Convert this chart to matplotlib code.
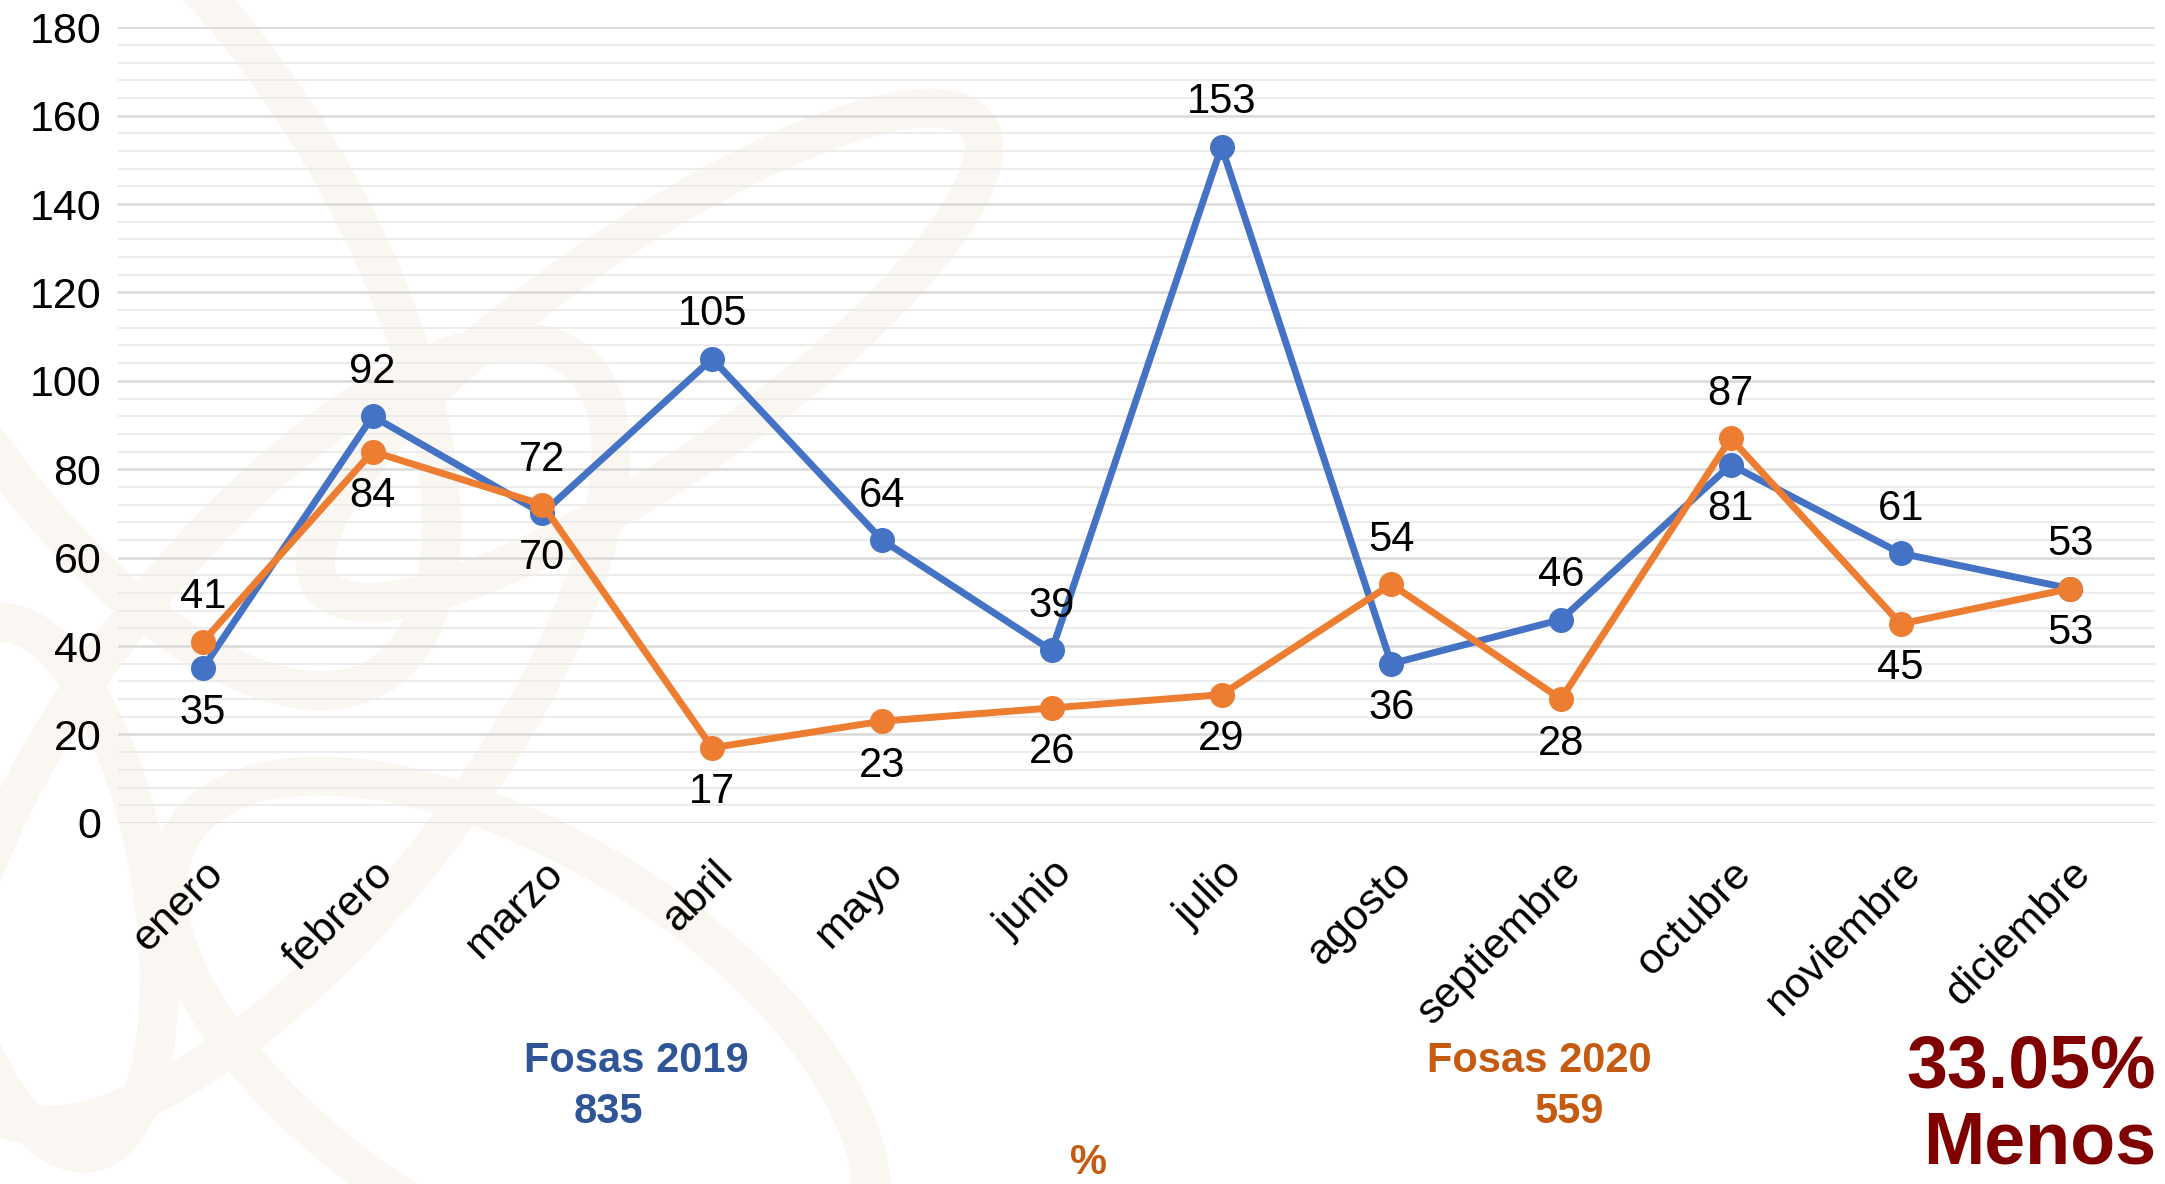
import matplotlib.pyplot as plt
from matplotlib.patches import Ellipse
import numpy as np

plt.rcParams['font.family'] = ['Liberation Sans', 'DejaVu Sans']

# data
meses = ["enero", "febrero", "marzo", "abril", "mayo", "junio", "julio",
         "agosto", "septiembre", "octubre", "noviembre", "diciembre"]
fosas_2019 = [35, 92, 70, 105, 64, 39, 153, 36, 46, 81, 61, 53]
fosas_2020 = [41, 84, 72, 17, 23, 26, 29, 54, 28, 87, 45, 53]
# +1 label above the point, -1 below
lado_2019 = [-1, 1, -1, 1, 1, 1, 1, -1, 1, -1, 1, 1]
lado_2020 = [1, -1, 1, -1, -1, -1, -1, 1, -1, 1, -1, -1]
total_2019 = 835
total_2020 = 559
diferencia = "33.05%"

azul = "#4472C4"
naranja = "#ED7D31"

fig = plt.figure(figsize=(21.65, 11.84), dpi=100)
fig.patch.set_facecolor("white")

# faint watermark in the background (left side)
bg = fig.add_axes([0, 0, 1, 1], zorder=-10)
bg.set_xlim(0, 1)
bg.set_ylim(0, 1)
bg.axis("off")
for (cx, cy, w, h, ang) in [(0.06, 0.78, 0.22, 0.75, 15), (0.13, 0.38, 0.2, 0.7, -20),
                            (0.24, 0.12, 0.24, 0.5, 30), (0.02, 0.25, 0.1, 0.45, 5),
                            (0.30, 0.70, 0.14, 0.5, -35)]:
    bg.add_patch(Ellipse((cx, cy), w, h, angle=ang, facecolor="none",
                         edgecolor="#FAF7F2", lw=28))

ax = fig.add_axes([0.0545, 0.305, 0.941, 0.672])
ax.patch.set_alpha(0)

x = np.arange(len(meses))
ax.plot(x, fosas_2019, color=azul, lw=5, marker="o", ms=17, zorder=3)
ax.plot(x, fosas_2020, color=naranja, lw=5, marker="o", ms=17, zorder=4)

for xi, v, s in zip(x, fosas_2019, lado_2019):
    ax.annotate(str(v), (xi, v), xytext=(0, 32 * s), textcoords="offset points",
                ha="center", va="center", fontsize=30, zorder=5)
for xi, v, s in zip(x, fosas_2020, lado_2020):
    ax.annotate(str(v), (xi, v), xytext=(0, 32 * s), textcoords="offset points",
                ha="center", va="center", fontsize=30, zorder=5)

ax.set_xlim(-0.5, len(meses) - 0.5)
ax.set_ylim(0, 180)
ax.set_yticks(range(0, 181, 20))
ax.set_yticks(range(0, 181, 4), minor=True)
ax.grid(True, which="major", axis="y", color="#D9D9D9", lw=1.8, zorder=0)
ax.grid(True, which="minor", axis="y", color="#ECECEC", lw=1.4, zorder=0)
for sp in ax.spines.values():
    sp.set_visible(False)
ax.tick_params(axis="both", which="both", length=0, labelsize=31)
ax.tick_params(axis="y", pad=12)
ax.set_xticks(x)
ax.set_xticklabels(meses, rotation=45, ha="right", va="top", rotation_mode="anchor")
ax.tick_params(axis="x", pad=22)

fig.text(0.294, 0.104, "Fosas 2019", color="#2F5597", fontsize=30, fontweight="bold",
         ha="center", va="center")
fig.text(0.281, 0.061, str(total_2019), color="#2F5597", fontsize=30, fontweight="bold",
         ha="center", va="center")
fig.text(0.711, 0.104, "Fosas 2020", color="#C55A11", fontsize=30, fontweight="bold",
         ha="center", va="center")
fig.text(0.725, 0.061, str(total_2020), color="#C55A11", fontsize=30, fontweight="bold",
         ha="center", va="center")
fig.text(0.503, 0.018, "%", color="#C55A11", fontsize=30, fontweight="bold",
         ha="center", va="center")
fig.text(0.996, 0.098, diferencia, color="#800000", fontsize=53, fontweight="bold",
         ha="right", va="center")
fig.text(0.996, 0.005, "Menos", color="#800000", fontsize=53, fontweight="bold",
         ha="right", va="bottom")

fig.savefig("out.png", dpi=100)
